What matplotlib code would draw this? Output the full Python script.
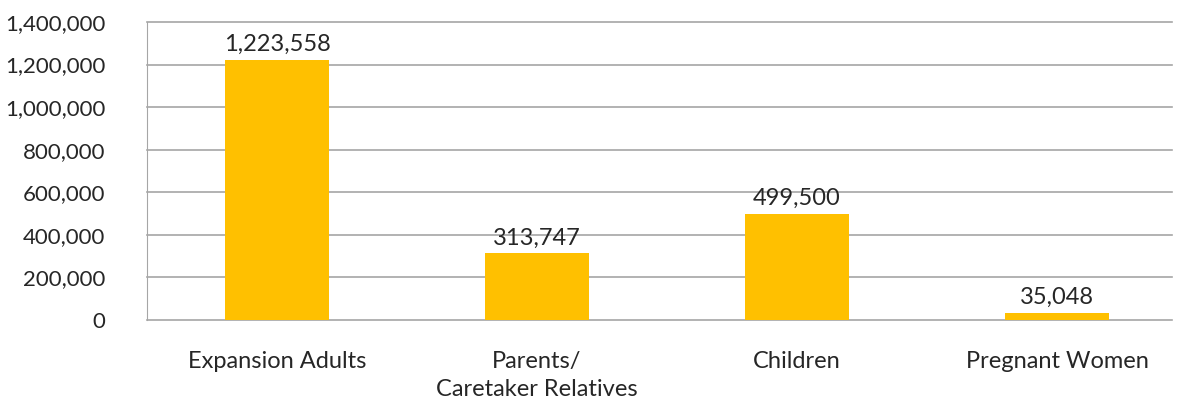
import matplotlib.pyplot as plt
from matplotlib.ticker import FuncFormatter

categories = ["Expansion Adults", "Parents/\nCaretaker Relatives", "Children", "Pregnant Women"]
enrollment = [1223558, 313747, 499500, 35048]

plt.rcParams["font.family"] = ["Lato", "DejaVu Sans"]

fig = plt.figure(figsize=(11.77, 3.98), dpi=100)
ax = fig.add_axes([147 / 1177, 1 - 320 / 398, (1172 - 147) / 1177, (320 - 22) / 398])

x = list(range(len(categories)))
bars = ax.bar(x, enrollment, width=0.4, color="#FFC000", zorder=3)
for b, v in zip(bars, enrollment):
    ax.text(b.get_x() + b.get_width() / 2, v + 22000, f"{v:,}",
            ha="center", va="bottom", fontsize=17, color="#262626")

ax.set_xlim(-0.5, -0.5 + 1025 / 260)
ax.set_ylim(0, 1400000)
ax.set_yticks(range(0, 1400001, 200000))
ax.yaxis.set_major_formatter(FuncFormatter(lambda v, p: f"{int(v):,}"))
ax.set_xticks(x)
ax.set_xticklabels(categories, linespacing=1.45)
ax.tick_params(axis="both", length=0, labelcolor="#262626")
ax.tick_params(axis="x", pad=22, labelsize=17)
ax.tick_params(axis="y", pad=30, labelsize=16)
ax.grid(axis="y", color="#a6a6a6", linewidth=1.2, zorder=0)
for line in ax.get_ygridlines():
    line.set_clip_on(False)
for s in ["top", "right", "bottom"]:
    ax.spines[s].set_visible(False)
ax.spines["left"].set_color("#a6a6a6")

fig.savefig("out.png", dpi=100)
